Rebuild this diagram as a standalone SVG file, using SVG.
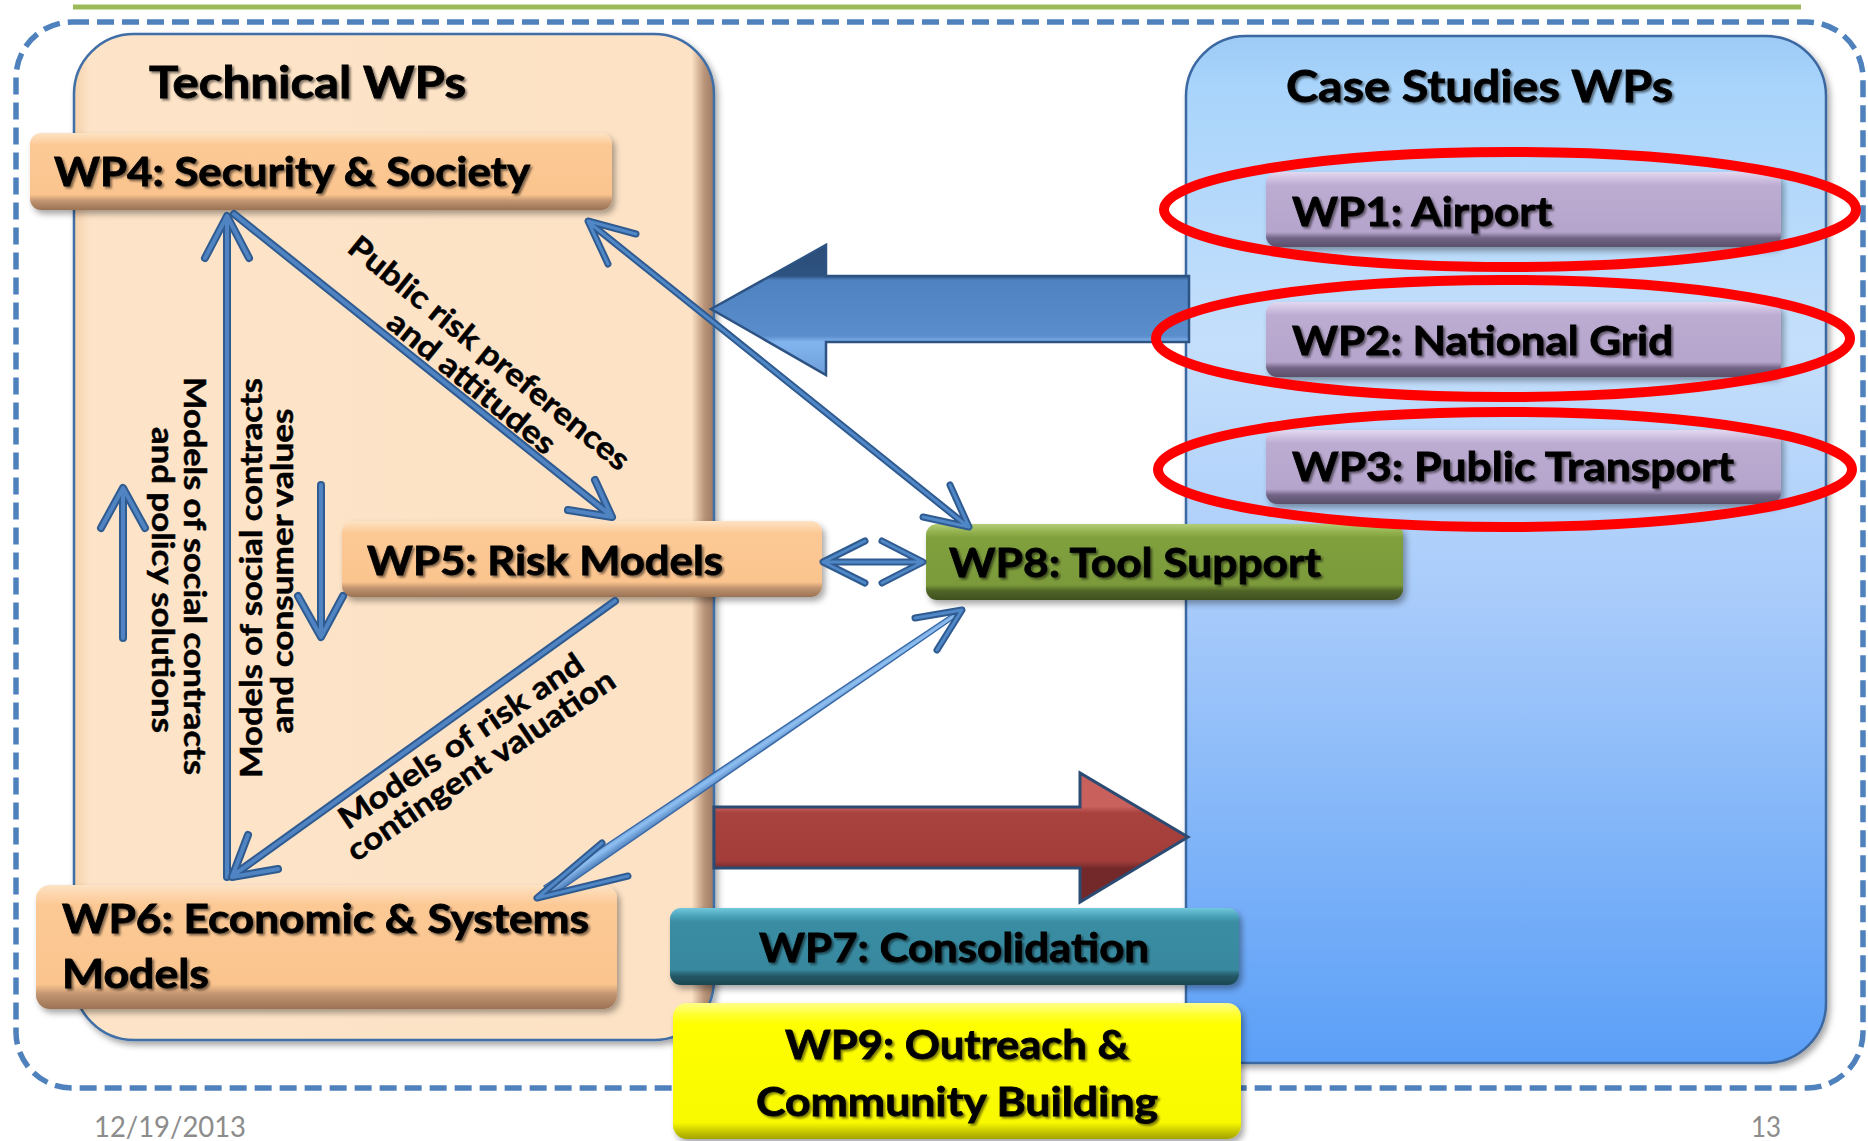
<svg xmlns="http://www.w3.org/2000/svg" width="1868" height="1141" viewBox="0 0 1868 1141">
<defs>
<style>
.t{font-family:Lato,'Open Sans','Liberation Sans',sans-serif;font-weight:700;fill:#000;stroke:#000;stroke-width:0.8}
.bx{font-size:40px}
.ttl{font-size:44px}
.lab{font-size:31px;stroke-width:0.5}
.ft{font-family:Lato,'Liberation Sans',sans-serif;font-weight:400;font-size:29px;fill:#8c8c8c}
.lo{fill:none;stroke:#2f5b91;stroke-width:8;stroke-linecap:round;stroke-linejoin:round}
.li{fill:none;stroke:#4f83c2;stroke-width:4;stroke-linecap:round;stroke-linejoin:round}
.lo2{fill:none;stroke:#2f5b91;stroke-width:7;stroke-linecap:round;stroke-linejoin:round}
.li2{fill:none;stroke:#5087c6;stroke-width:3;stroke-linecap:round;stroke-linejoin:round}
.ell{fill:none;stroke:#ff0000;stroke-width:10}
.box{filter:url(#sh)}
.ts{filter:url(#tsh)}
</style>
<filter id="sh" x="-10%" y="-30%" width="120%" height="170%">
<feDropShadow dx="3" dy="4" stdDeviation="3" flood-color="#000" flood-opacity="0.35"/>
</filter>
<filter id="tsh" x="-5%" y="-20%" width="110%" height="150%">
<feDropShadow dx="2" dy="2" stdDeviation="1.3" flood-color="#000" flood-opacity="0.5"/>
</filter>
<linearGradient id="gPeach" x1="0" y1="0" x2="0" y2="1">
<stop offset="0" stop-color="#fde3c4"/><stop offset="0.08" stop-color="#fdd5ab"/><stop offset="0.16" stop-color="#fcc995"/><stop offset="0.8" stop-color="#fbc48e"/><stop offset="0.88" stop-color="#c29571"/><stop offset="1" stop-color="#9a7254"/>
</linearGradient>
<linearGradient id="gPurple" x1="0" y1="0" x2="0" y2="1">
<stop offset="0" stop-color="#e3d8f0"/><stop offset="0.1" stop-color="#cdbee0"/><stop offset="0.18" stop-color="#bdacd2"/><stop offset="0.8" stop-color="#b5a4cb"/><stop offset="0.88" stop-color="#716485"/><stop offset="1" stop-color="#5b506c"/>
</linearGradient>
<linearGradient id="gGreen" x1="0" y1="0" x2="0" y2="1">
<stop offset="0" stop-color="#b3cd78"/><stop offset="0.1" stop-color="#95b350"/><stop offset="0.18" stop-color="#80a03e"/><stop offset="0.8" stop-color="#7b9a3a"/><stop offset="0.88" stop-color="#4f6427"/><stop offset="1" stop-color="#3f501f"/>
</linearGradient>
<linearGradient id="gTeal" x1="0" y1="0" x2="0" y2="1">
<stop offset="0" stop-color="#72c8dc"/><stop offset="0.1" stop-color="#4ba4bb"/><stop offset="0.18" stop-color="#3a8da3"/><stop offset="0.8" stop-color="#37889e"/><stop offset="0.88" stop-color="#245967"/><stop offset="1" stop-color="#1c4650"/>
</linearGradient>
<linearGradient id="gYellow" x1="0" y1="0" x2="0" y2="1">
<stop offset="0" stop-color="#ffff8a"/><stop offset="0.08" stop-color="#ffff33"/><stop offset="0.16" stop-color="#ffff00"/><stop offset="0.88" stop-color="#f8f800"/><stop offset="0.95" stop-color="#c4c400"/><stop offset="1" stop-color="#a3a300"/>
</linearGradient>
<linearGradient id="gTech" x1="0" y1="0" x2="1" y2="0">
<stop offset="0" stop-color="#f4d0aa"/><stop offset="0.025" stop-color="#fde4c8"/><stop offset="0.965" stop-color="#fde2c5"/><stop offset="0.985" stop-color="#b99479"/><stop offset="1" stop-color="#9c7a62"/>
</linearGradient>
<linearGradient id="gCase" x1="0" y1="0" x2="0" y2="1">
<stop offset="0" stop-color="#9ccbf6"/><stop offset="0.05" stop-color="#a9d4fb"/><stop offset="0.3" stop-color="#c4dffb"/><stop offset="0.55" stop-color="#a8cbfa"/><stop offset="1" stop-color="#5b9ff7"/>
</linearGradient>
<linearGradient id="gBlueArrow" gradientUnits="userSpaceOnUse" x1="0" y1="245" x2="0" y2="375">
<stop offset="0" stop-color="#2a4c78"/><stop offset="0.238" stop-color="#2e5381"/><stop offset="0.27" stop-color="#4f82c1"/><stop offset="0.7" stop-color="#5a8dcc"/><stop offset="0.746" stop-color="#82b4ee"/><stop offset="1" stop-color="#6e9fda"/>
</linearGradient>
<linearGradient id="gRedArrow" gradientUnits="userSpaceOnUse" x1="0" y1="773" x2="0" y2="902">
<stop offset="0" stop-color="#c95f5b"/><stop offset="0.26" stop-color="#c9615d"/><stop offset="0.31" stop-color="#a8423f"/><stop offset="0.68" stop-color="#a23d3a"/><stop offset="0.74" stop-color="#73292a"/><stop offset="1" stop-color="#73292a"/>
</linearGradient>
<linearGradient id="g3d" gradientUnits="userSpaceOnUse" x1="540" y1="880" x2="552" y2="898">
<stop offset="0" stop-color="#3b6aa8"/><stop offset="0.5" stop-color="#8fc0f2"/><stop offset="1" stop-color="#3b6aa8"/>
</linearGradient>
<path id="cA" d="M227,877 V220 M205,258 L227,216 L249,258"/>
<path id="cB" d="M234,214 L609,514 M595,480 L612,517 L568,510"/>
<path id="cC" d="M615,601 L235,874 M248,835 L232,877 L278,869"/>
<path id="cD" d="M123,638 V492 M101,528 L123,488 L145,528"/>
<path id="cE" d="M321,485 V633 M298,596 L321,637 L343,596"/>
<path id="cF" d="M591,224 L966,525 M636,234 L588,221 L608,264 M950,485 L969,527 L923,517"/>
<path id="cG" d="M826,562 H920 M865,541 L823,562 L865,583 M882,541 L923,562 L882,583"/>
<path id="cH" d="M915,618 L962,610 L937,650 M602,843 L537,898 L628,876"/>
</defs>

<rect x="0" y="0" width="1868" height="1141" fill="#ffffff"/>

<g id="frame">
<line x1="73" y1="7" x2="1801" y2="7" stroke="#9bbb59" stroke-width="5"/>
<rect x="16" y="22" width="1847" height="1066" rx="56" ry="56" fill="none" stroke="#4f81bd" stroke-width="5.5" stroke-dasharray="17 8"/>
</g>

<g id="technical-panel">
<rect x="74" y="34" width="640" height="1006" rx="60" ry="60" fill="url(#gTech)" stroke="#3f6ea6" stroke-width="2.5" class="box"/>
<text class="t ttl ts" x="149" y="98" textLength="317" lengthAdjust="spacingAndGlyphs">Technical WPs</text>
</g>

<g id="case-panel">
<rect x="1186" y="36" width="640" height="1027" rx="60" ry="60" fill="url(#gCase)" stroke="#3a67a0" stroke-width="2.5" class="box"/>
<text class="t ttl ts" x="1286" y="102" textLength="387" lengthAdjust="spacingAndGlyphs">Case Studies WPs</text>
</g>

<g id="big-arrow-left">
<polygon points="711,309 826,245 826,276 1189,276 1189,342 826,342 826,375" fill="url(#gBlueArrow)" stroke="#2d5382" stroke-width="2.5" stroke-linejoin="miter"/>
</g>

<g id="big-arrow-right">
<polygon points="714,807 1080,807 1080,773 1188,837 1080,902 1080,868 714,868" fill="url(#gRedArrow)" stroke="#2c4b72" stroke-width="3" stroke-linejoin="miter"/>
</g>

<g id="wp4">
<rect x="30" y="133" width="582" height="77" rx="11" ry="11" fill="url(#gPeach)" class="box"/>
<text class="t bx ts" x="54" y="186" textLength="476" lengthAdjust="spacingAndGlyphs">WP4: Security &amp; Society</text>
</g>

<g id="wp5">
<rect x="342" y="521" width="480" height="76" rx="11" ry="11" fill="url(#gPeach)" class="box"/>
<text class="t bx ts" x="367" y="575" textLength="356" lengthAdjust="spacingAndGlyphs">WP5: Risk Models</text>
</g>

<g id="wp6">
<rect x="36" y="885" width="581" height="124" rx="14" ry="14" fill="url(#gPeach)" class="box"/>
<text class="t bx ts" x="62" y="933" textLength="527" lengthAdjust="spacingAndGlyphs">WP6: Economic &amp; Systems</text>
<text class="t bx ts" x="62" y="988" textLength="147" lengthAdjust="spacingAndGlyphs">Models</text>
</g>

<g id="wp8">
<rect x="926" y="524" width="477" height="76" rx="11" ry="11" fill="url(#gGreen)" class="box"/>
<text class="t bx ts" x="949" y="577" textLength="372" lengthAdjust="spacingAndGlyphs">WP8: Tool Support</text>
</g>

<g id="wp7">
<rect x="670" y="908" width="569" height="77" rx="11" ry="11" fill="url(#gTeal)" class="box"/>
<text class="t bx ts" x="759" y="962" textLength="390" lengthAdjust="spacingAndGlyphs">WP7: Consolidation</text>
</g>

<g id="wp9">
<rect x="673" y="1003" width="568" height="136" rx="14" ry="14" fill="url(#gYellow)" class="box"/>
<text class="t bx ts" x="785" y="1059" textLength="344" lengthAdjust="spacingAndGlyphs">WP9: Outreach &amp;</text>
<text class="t bx ts" x="756" y="1116" textLength="402" lengthAdjust="spacingAndGlyphs">Community Building</text>
</g>

<g id="wp1">
<rect x="1266" y="172" width="515" height="75" rx="11" ry="11" fill="url(#gPurple)" class="box"/>
<text class="t bx ts" x="1292" y="226" textLength="260" lengthAdjust="spacingAndGlyphs">WP1: Airport</text>
<ellipse class="ell" cx="1510" cy="209.5" rx="346" ry="57.5"/>
</g>

<g id="wp2">
<rect x="1266" y="302" width="515" height="75" rx="11" ry="11" fill="url(#gPurple)" class="box"/>
<text class="t bx ts" x="1292" y="355" textLength="381" lengthAdjust="spacingAndGlyphs">WP2: National Grid</text>
<ellipse class="ell" cx="1503" cy="338.5" rx="347" ry="58.5"/>
</g>

<g id="wp3">
<rect x="1266" y="430" width="515" height="74" rx="11" ry="11" fill="url(#gPurple)" class="box"/>
<text class="t bx ts" x="1292" y="481" textLength="442" lengthAdjust="spacingAndGlyphs">WP3: Public Transport</text>
<ellipse class="ell" cx="1505" cy="469.5" rx="347" ry="57.5"/>
</g>

<g id="connectors">
<use href="#cA" class="lo"/><use href="#cA" class="li"/>
<use href="#cB" class="lo"/><use href="#cB" class="li"/>
<use href="#cC" class="lo"/><use href="#cC" class="li"/>
<use href="#cD" class="lo"/><use href="#cD" class="li"/>
<use href="#cE" class="lo"/><use href="#cE" class="li"/>
<use href="#cF" class="lo2"/><use href="#cF" class="li2"/>
<use href="#cG" class="lo2"/><use href="#cG" class="li2"/>
<polygon points="544,886 954,613 956,617 552,896" fill="url(#g3d)" stroke="#3a69a6" stroke-width="1.5" stroke-linejoin="round"/>
<use href="#cH" class="lo2"/><use href="#cH" class="li2"/>
</g>

<g id="labels">
<text class="t lab" transform="translate(184,576) rotate(90)" text-anchor="middle" textLength="398" lengthAdjust="spacingAndGlyphs">Models of social contracts</text>
<text class="t lab" transform="translate(152,580) rotate(90)" text-anchor="middle" textLength="306" lengthAdjust="spacingAndGlyphs">and policy solutions</text>
<text class="t lab" transform="translate(262,578) rotate(-90)" text-anchor="middle" textLength="400" lengthAdjust="spacingAndGlyphs">Models of social contracts</text>
<text class="t lab" transform="translate(293,571) rotate(-90)" text-anchor="middle" textLength="325" lengthAdjust="spacingAndGlyphs">and consumer values</text>
<g transform="translate(465,391) rotate(39)">
<text class="t lab" x="-5" y="-34" text-anchor="middle" textLength="352" lengthAdjust="spacingAndGlyphs">Public risk preferences</text>
<text class="t lab" x="0" y="0" text-anchor="middle" textLength="207" lengthAdjust="spacingAndGlyphs">and attitudes</text>
</g>
<g transform="translate(467,750) rotate(-34)">
<text class="t lab" x="0" y="0" text-anchor="middle" textLength="288" lengthAdjust="spacingAndGlyphs">Models of risk and</text>
<text class="t lab" x="3" y="31" text-anchor="middle" textLength="316" lengthAdjust="spacingAndGlyphs">contingent valuation</text>
</g>
</g>

<g id="footer">
<text class="ft" x="94" y="1137" textLength="152" lengthAdjust="spacingAndGlyphs">12/19/2013</text>
<text class="ft" x="1751" y="1137" textLength="30" lengthAdjust="spacingAndGlyphs">13</text>
</g>
</svg>
